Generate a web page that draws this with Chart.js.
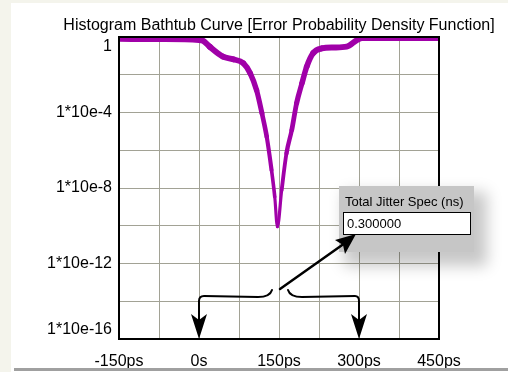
<!DOCTYPE html>
<html>
<head>
<meta charset="utf-8">
<script src="https://cdn.jsdelivr.net/npm/chart.js@4.4.0/dist/chart.umd.min.js"></script>
<style>
  html, body { margin: 0; padding: 0; background: #fff; }
  #wrap { position: relative; width: 508px; height: 372px; overflow: hidden; font-family: 'Liberation Sans', Arial, sans-serif; }
  #leftStrip { position: absolute; left: 0; top: 0; width: 11px; height: 372px; background: #f4f4ec; }
  #topStrip { position: absolute; left: 0; top: 0; width: 508px; height: 3px; background: #f4f4ec; }
  #bottomBar { position: absolute; left: 14px; top: 368px; width: 494px; height: 3px; background: #a0a0a0; }
  #bathtub { position: absolute; left: 0; top: 0; }
  #overlay { position: absolute; left: 0; top: 0; pointer-events: none; }
  #jitterBox {
    position: absolute; left: 339px; top: 186px; width: 135px; height: 66px;
    background: #c6c6c6; box-shadow: 9px 10px 14px 4px rgba(0,0,0,0.22);
  }
  #jitterBox .lbl { position: absolute; left: 6px; top: 8px; font-size: 13px; color: #000; }
  #jitterBox .val {
    position: absolute; left: 4px; top: 26px; width: 123px; height: 21px;
    background: #fff; border: 1px solid #000; font-size: 13px; line-height: 21px; padding-left: 3px; box-sizing: content-box;
  }
</style>
</head>
<body>
<div id="wrap">
  <div id="leftStrip"></div>
  <div id="topStrip"></div>
  <canvas id="bathtub" width="508" height="372"></canvas>
  <div id="jitterBox">
    <div class="lbl">Total Jitter Spec (ns)</div>
    <div class="val">0.300000</div>
  </div>
  <canvas id="overlay" width="508" height="372"></canvas>
  <div id="bottomBar"></div>
</div>
<script>
// time offset in ps
const timePs = [-150, -75, 0, 8, 20, 45, 64, 83, 96, 108, 118, 127, 136, 142, 147, 155, 164, 174, 183, 193, 202, 214, 230, 252, 277, 296, 306, 450];
// error probability
const errProb = [0.80, 0.78, 0.70, 0.62, 0.31, 0.091, 0.066, 0.041, 0.012, 1.5e-3, 9.1e-5, 5.2e-6, 8.9e-8, 3.5e-9, 8.9e-11,
                 7.8e-9, 6.9e-7, 1.2e-5, 3.1e-4, 3.5e-3, 0.027, 0.14, 0.25, 0.28, 0.31, 0.69, 0.89, 0.89];
const yTicks = [1, 1e-2, 1e-4, 1e-6, 1e-8, 1e-10, 1e-12, 1e-14, 1e-16];
const xTickStep = 75;
const titleText = 'Histogram Bathtub Curve [Error Probability Density Function]';

const pts = timePs.map((t, i) => ({ x: t, y: errProb[i] }));

// title + plot frame + the hand drawn arrows
const extras = {
  id: 'extras',
  afterDatasetsDraw(chart) {
    const ctx = chart.ctx, a = chart.chartArea;
    const xs = chart.scales.x;
    ctx.save();
    ctx.strokeStyle = '#000';
    ctx.lineWidth = 2;
    ctx.strokeRect(a.left, a.top, a.right - a.left, a.bottom - a.top);

    ctx.fillStyle = '#000';
    ctx.font = "16px 'Liberation Sans', Arial, sans-serif";
    ctx.textAlign = 'center';
    ctx.textBaseline = 'middle';
    ctx.fillText(titleText, (a.left + a.right) / 2, 26);

    const x0 = xs.getPixelForValue(0), x300 = xs.getPixelForValue(300);
    const yb = a.bottom, yBrace = a.bottom - 42;
    ctx.lineWidth = 2;
    ctx.lineCap = 'round';
    // left brace
    ctx.beginPath();
    ctx.moveTo(272, yBrace - 7);
    ctx.quadraticCurveTo(270, yBrace, 258, yBrace);
    ctx.lineTo(204, yBrace - 1);
    ctx.quadraticCurveTo(x0, yBrace - 1, x0, yBrace + 4);
    ctx.lineTo(x0, yb - 18);
    ctx.stroke();
    // right brace
    ctx.beginPath();
    ctx.moveTo(288, yBrace - 7);
    ctx.quadraticCurveTo(290, yBrace, 302, yBrace);
    ctx.lineTo(x300 - 4, yBrace - 1);
    ctx.quadraticCurveTo(x300, yBrace - 1, x300, yBrace + 4);
    ctx.lineTo(x300, yb - 18);
    ctx.stroke();
    const head = (x) => {
      ctx.beginPath();
      ctx.moveTo(x, yb);
      ctx.lineTo(x - 8, yb - 25);
      ctx.lineTo(x, yb - 19);
      ctx.lineTo(x + 8, yb - 25);
      ctx.closePath();
      ctx.fill();
    };
    head(x0);
    head(x300);
    ctx.restore();

    // pointer to the spec box, drawn above the box
    const o = document.getElementById('overlay').getContext('2d');
    o.clearRect(0, 0, 508, 372);
    o.strokeStyle = '#000';
    o.fillStyle = '#000';
    o.lineWidth = 2.5;
    o.lineCap = 'round';
    o.beginPath();
    o.moveTo(280, 289);
    o.lineTo(345, 243);
    o.stroke();
    o.beginPath();
    o.moveTo(356, 234);
    o.lineTo(335, 240);
    o.lineTo(343, 245);
    o.lineTo(345, 254);
    o.closePath();
    o.fill();
  }
};

new Chart(document.getElementById('bathtub'), {
  type: 'line',
  data: {
    datasets: [{
      data: pts,
      borderColor: '#a000a8',
      borderWidth: 5,
      pointRadius: 0,
      cubicInterpolationMode: 'monotone',
      borderJoinStyle: 'round',
      borderCapStyle: 'round',
      segment: {
        // pen gets thinner toward the bottom of the tub
        borderWidth: c => {
          const e = (Math.log10(c.p0.parsed.y) + Math.log10(c.p1.parsed.y)) / 2;
          return Math.max(3, Math.min(6, 6.2 + e * 0.33));
        }
      }
    }]
  },
  options: {
    responsive: false,
    animation: false,
    events: [],
    layout: { padding: { top: 37, right: 69, left: 0, bottom: 0 } },
    plugins: { legend: { display: false }, title: { display: false }, tooltip: { enabled: false } },
    scales: {
      x: {
        type: 'linear',
        min: -150,
        max: 450,
        afterFit: s => { s.height = 33; },
        afterBuildTicks: s => {
          const t = [];
          for (let v = -150; v <= 450; v += xTickStep) t.push({ value: v });
          s.ticks = t;
        },
        grid: { color: '#a2a295', lineWidth: 1, drawTicks: false },
        border: { display: false },
        ticks: {
          autoSkip: false,
          maxRotation: 0,
          padding: 13,
          color: '#000',
          font: { family: "'Liberation Sans', Arial, sans-serif", size: 16 },
          callback: v => (v % 150 !== 0 ? '' : (v === 0 ? '0s' : v + 'ps'))
        }
      },
      y: {
        type: 'logarithmic',
        min: 1e-16,
        max: 1,
        afterFit: s => { s.width = 119; },
        afterBuildTicks: s => { s.ticks = yTicks.map(v => ({ value: v })); },
        grid: { color: '#a2a295', lineWidth: 1, drawTicks: false },
        border: { display: false },
        ticks: {
          autoSkip: false,
          padding: 7,
          color: '#000',
          font: { family: "'Liberation Sans', Arial, sans-serif", size: 16 },
          callback: v => {
            const e = Math.round(Math.log10(v));
            if (e % 4 !== 0) return '';
            if (e === 0) return ['', '1'];
            if (e === -16) return ['1*10e' + e, ''];
            return '1*10e' + e;
          }
        }
      }
    }
  },
  plugins: [extras]
});
</script>
</body>
</html>
